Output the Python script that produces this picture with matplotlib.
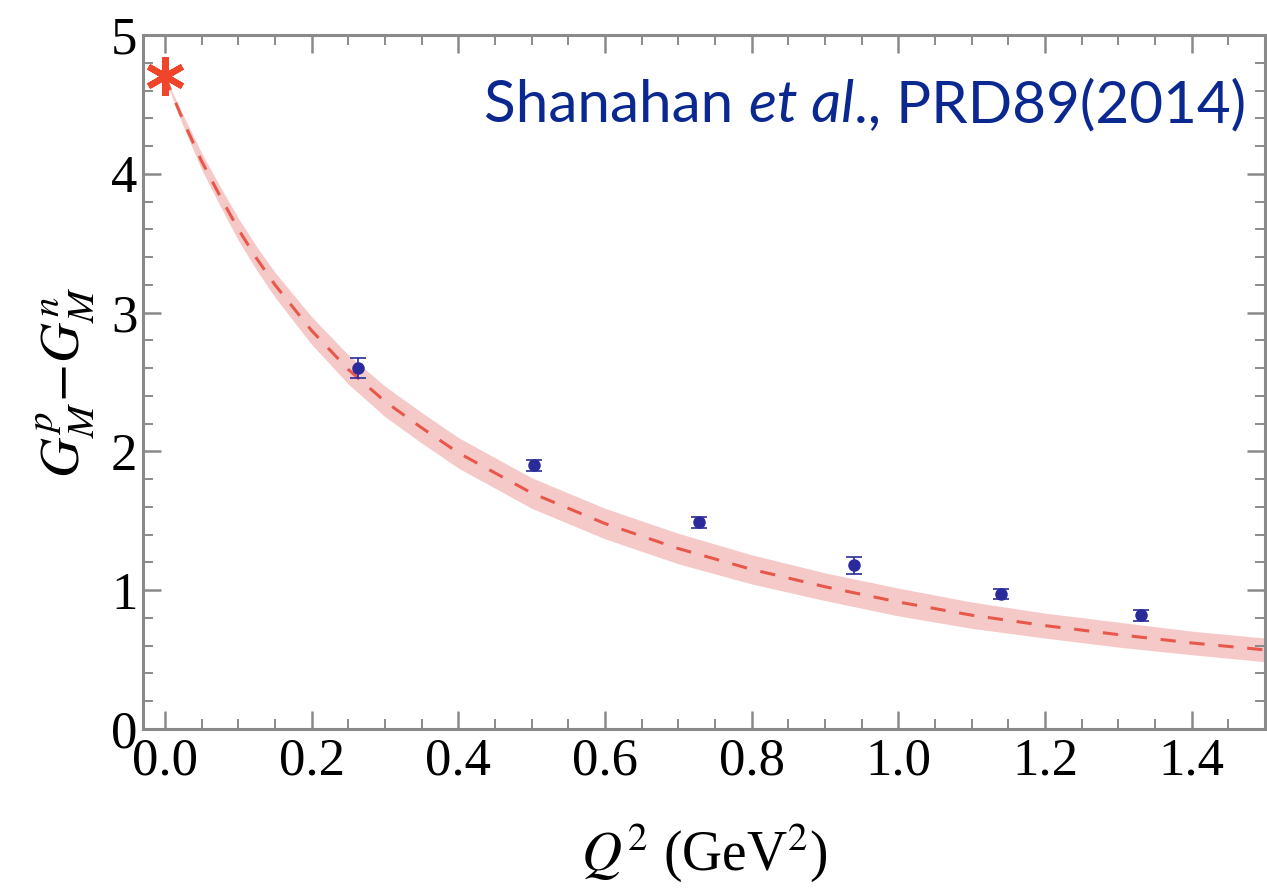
import numpy as np
import matplotlib
matplotlib.use("Agg")
import matplotlib.pyplot as plt
from matplotlib.ticker import MultipleLocator, FuncFormatter
from matplotlib.offsetbox import TextArea, HPacker, AnchoredOffsetbox

plt.rcParams['mathtext.fontset'] = 'stix'

# Lattice data points
q2_data = [0.263, 0.503, 0.728, 0.939, 1.140, 1.331]
g_data = [2.60, 1.90, 1.49, 1.18, 0.975, 0.82]
g_err = [0.07, 0.04, 0.04, 0.06, 0.035, 0.04]

# Fit curve
q2_curve = [0.0, 0.01, 0.025, 0.05, 0.075, 0.1, 0.125, 0.15, 0.2, 0.25, 0.3,
            0.35, 0.4, 0.5, 0.6, 0.7, 0.8, 0.9, 1.0, 1.1, 1.2, 1.3, 1.4, 1.5]
g_curve = [4.706, 4.57, 4.38, 4.09, 3.84, 3.60, 3.39, 3.20, 2.87, 2.59, 2.36,
           2.17, 1.99, 1.70, 1.48, 1.30, 1.15, 1.025, 0.915, 0.82, 0.745, 0.68, 0.62, 0.57]
g_band = [0.0, 0.02, 0.04, 0.06, 0.07, 0.08, 0.085, 0.09, 0.10, 0.105, 0.11,
          0.11, 0.11, 0.11, 0.11, 0.11, 0.105, 0.10, 0.10, 0.095, 0.09, 0.09, 0.085, 0.085]

# Physical point
q2_phys = [0.0]
g_phys = [4.706]

fig = plt.figure(figsize=(12.67, 8.92), dpi=100)
ax = fig.add_axes([143/1267, 1-729/892, (1265-143)/1267, (729-35)/892])

qc = np.array(q2_curve)
gc = np.array(g_curve)
gb = np.array(g_band)
ax.fill_between(qc, gc-gb, gc+gb, color='#f4b8b8', alpha=0.75, lw=0, zorder=1)
ax.plot(qc, gc, color='#e8584a', lw=2.2, dashes=(5, 4.5), zorder=2)

ax.errorbar(q2_data, g_data, yerr=g_err, fmt='o', color='#2a2a9a', ms=8,
            capsize=6, elinewidth=1.2, capthick=1.2, zorder=4)

ax.plot(q2_phys, g_phys, linestyle='none', marker=(6, 2, 0), ms=28, mew=4.5,
        color='#f0452a', zorder=5, clip_on=False)

ax.set_xlim(-0.03, 1.5)
ax.set_ylim(0, 5)
ax.xaxis.set_major_locator(MultipleLocator(0.2))
ax.xaxis.set_minor_locator(MultipleLocator(0.05))
ax.yaxis.set_major_locator(MultipleLocator(1))
ax.yaxis.set_minor_locator(MultipleLocator(0.2))
ax.xaxis.set_major_formatter(FuncFormatter(lambda v, p: f"{v:.1f}"))
ax.yaxis.set_major_formatter(FuncFormatter(lambda v, p: f"{v:.0f}"))

for s in ax.spines.values():
    s.set_color('#8a8a8a')
    s.set_linewidth(2.2)

ax.tick_params(which='both', direction='in', top=True, right=True, color='#8a8a8a')
ax.tick_params(which='major', length=13, width=1.8, labelsize=38, pad=6)
ax.tick_params(which='minor', length=7, width=1.4)
for lab in ax.get_xticklabels() + ax.get_yticklabels():
    lab.set_fontfamily('Liberation Serif')
ax.tick_params(axis='y', pad=4)

ax.set_xlabel(r'$Q^2$ (GeV$^2$)', fontsize=40, family='Liberation Serif', labelpad=26)
ax.set_ylabel(r'$G_M^p\!-\!G_M^n$', fontsize=40, labelpad=10)

# Citation text
tcol = '#0a2890'
base = dict(fontsize=42, color=tcol, family='Lato')
parts = [
    TextArea('Shanahan ', textprops=base),
    TextArea('et al', textprops=dict(base, style='italic')),
    TextArea('., PRD89(2014)', textprops=base),
]
box = HPacker(children=parts, align='baseline', pad=0, sep=0)
anch = AnchoredOffsetbox(loc='upper right', child=box, pad=0, borderpad=0,
                         frameon=False, bbox_to_anchor=(0.983, 0.937),
                         bbox_transform=ax.transAxes)
ax.add_artist(anch)

fig.savefig('out.png', dpi=100)
